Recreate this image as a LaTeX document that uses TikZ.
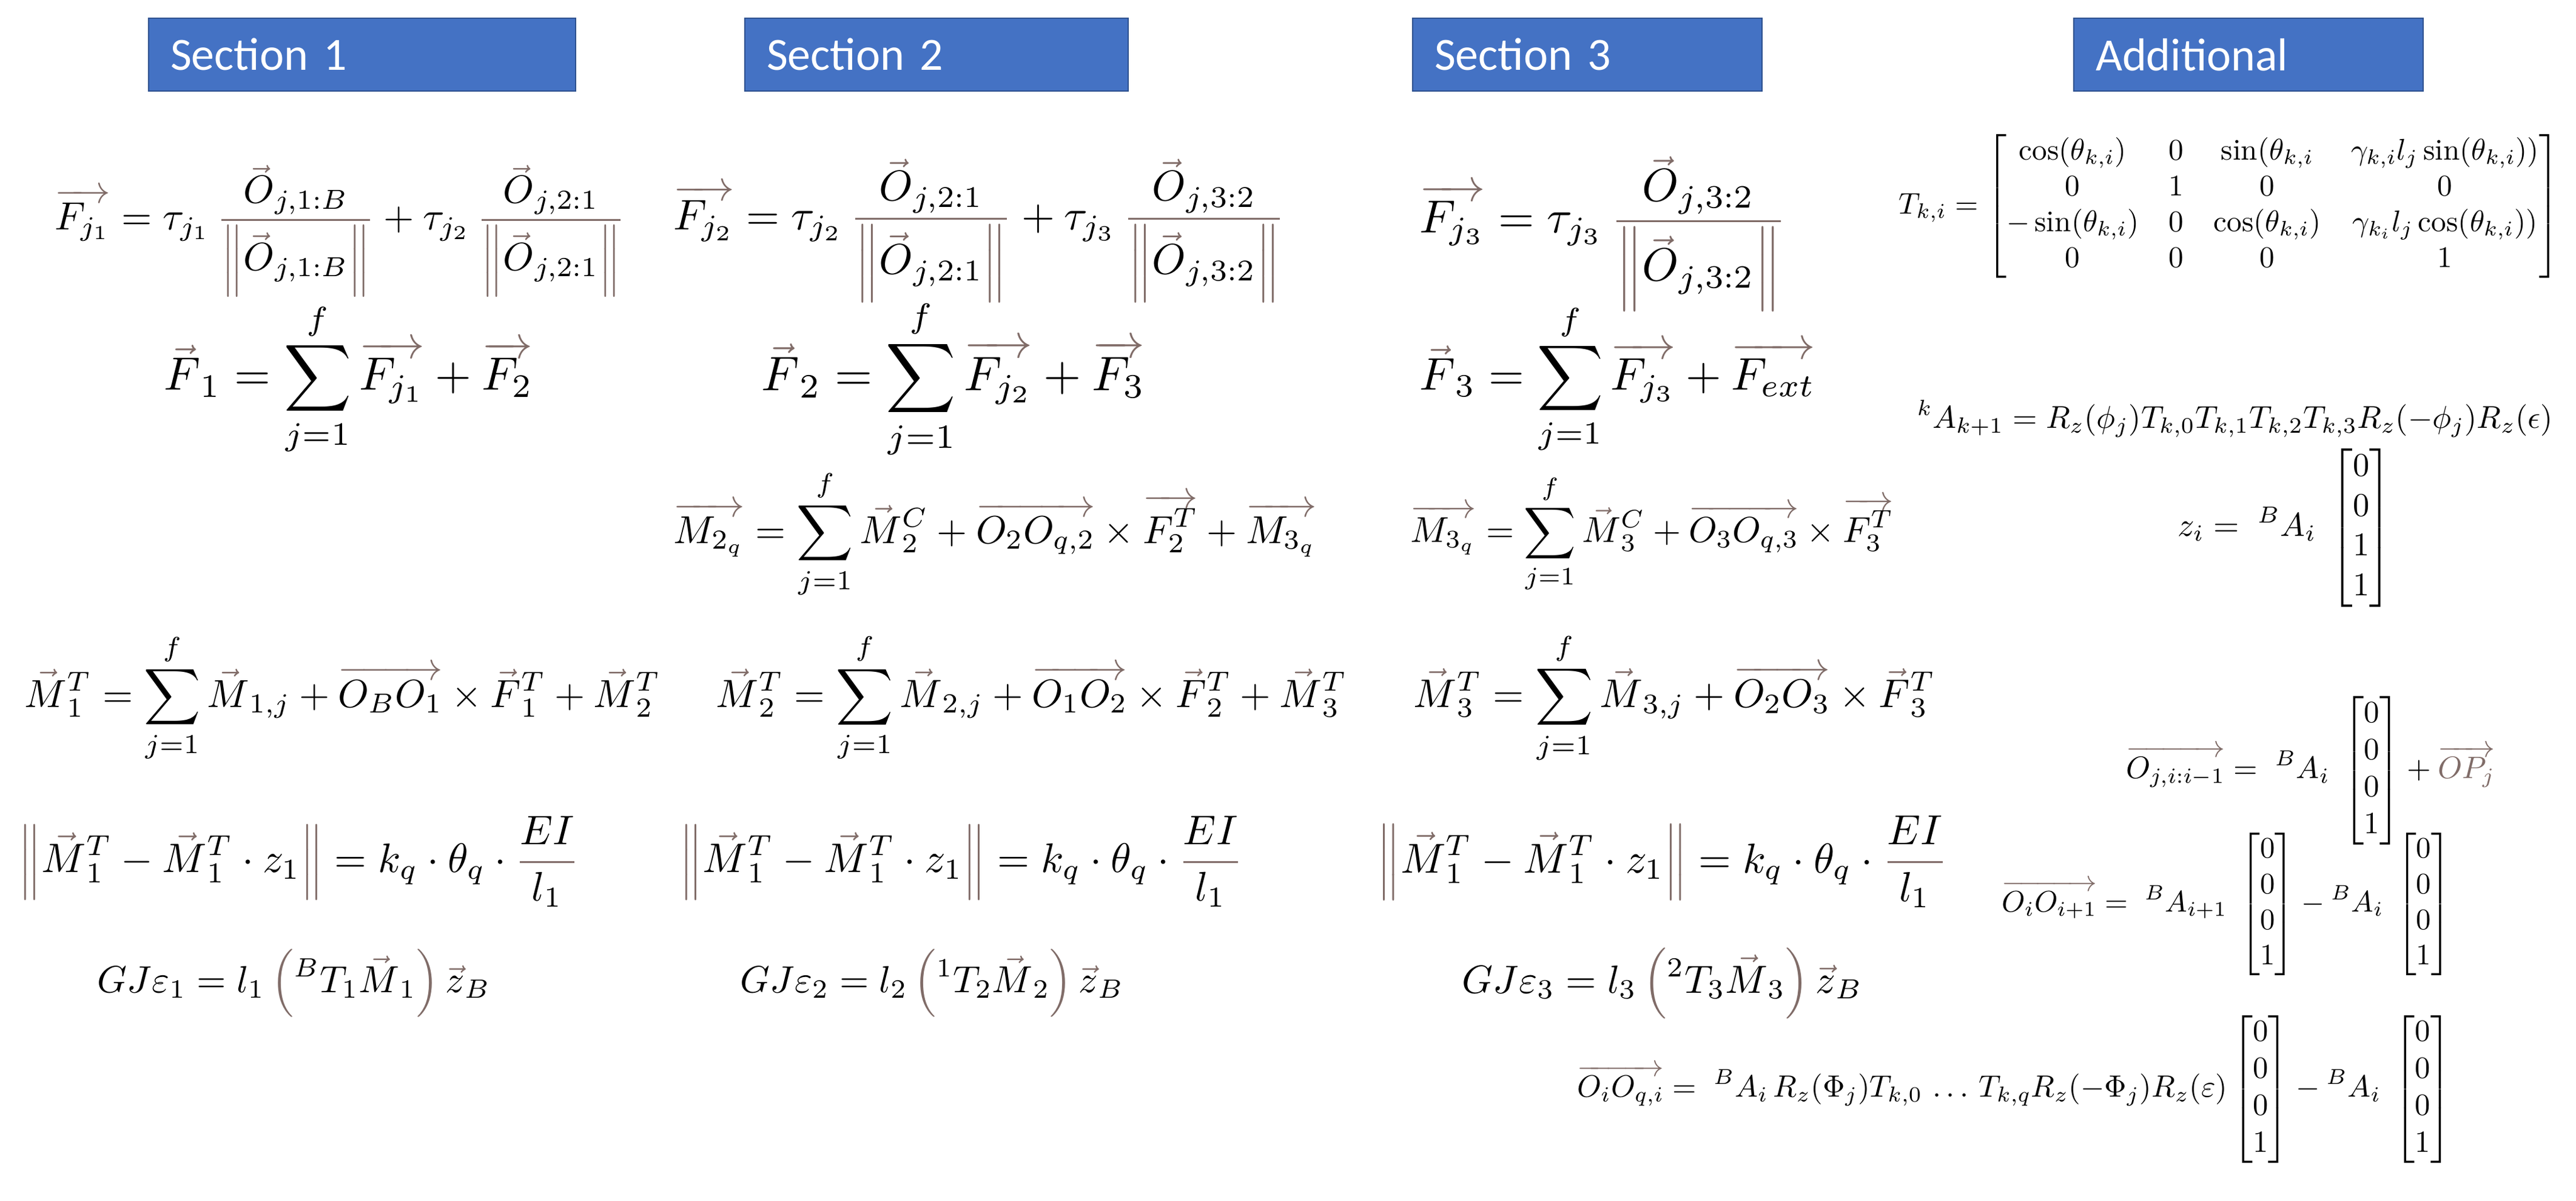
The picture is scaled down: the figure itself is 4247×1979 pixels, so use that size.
\documentclass[tikz,border=0pt]{standalone}
\usepackage{amsmath,amssymb}
\usepackage{xcolor}
\usepackage{graphicx}
\usepackage{fontspec}
\newfontfamily\carl{Carlito}
\definecolor{gc}{RGB}{128,108,104}
\definecolor{secfill}{RGB}{68,114,196}
\definecolor{secline}{RGB}{47,82,143}
\newcommand\vA[1]{{\color{gc}\overrightarrow{\color{black}#1}}}
\newcommand\vS[1]{{\color{gc}\vec{\color{black}#1}}}
\newcommand\Fr[2]{{\color{gc}\dfrac{\color{black}#1}{\color{black}#2}}}
\newcommand\Nm[1]{{\color{gc}\left\|{\color{black}#1}\right\|}}
\newcommand\Pa[1]{{\color{gc}\left({\color{black}#1}\right)}}
\newcommand\colv{\begin{bmatrix}0\\0\\0\\1\end{bmatrix}}
\newcommand\RB[2]{\resizebox{#1pt}{!}{$\displaystyle #2$}}
\begin{document}
\begin{tikzpicture}[x=0.25pt,y=-0.25pt,
  secbox/.style={draw=secline,line width=0.6pt,fill=secfill,text=white,font=\carl\fontsize{19}{22}\selectfont,align=left,inner xsep=9pt,minimum height=30pt},
  eq/.style={anchor=west,inner sep=0pt}]
\useasboundingbox (0,0) rectangle (4247,1979);
\node[secbox,text width=158pt] (s1) at (597,90) {Section 1};
\node[secbox,text width=140pt] (s2) at (1544,90) {Section 2};
\node[secbox,text width=126pt] (s3) at (2617,90) {Section 3};
\node[secbox,text width=126pt] (s4) at (3707,90) {Additional};

% Section 1
\node[eq] (e11) at (90,380) {\RB{235}{\vA{F_{j_1}} = \tau_{j_1}\,\Fr{\vS{O}_{j,1:B}}{\Nm{\vS{O}_{j,1:B}}} + \tau_{j_2}\,\Fr{\vS{O}_{j,2:1}}{\Nm{\vS{O}_{j,2:1}}}}};
\node[eq] (e12) at (270,625) {\RB{152}{\vS{F}_1 = \sum_{j=1}^{f}\vA{F_{j_1}} + \vA{F_2}}};
\node[eq] (e13) at (40,1150) {\RB{262}{\vS{M}_1^T = \sum_{j=1}^{f}\vS{M}_{1,j} + \vA{O_BO_1}\times\vS{F}_1^T + \vS{M}_2^T}};
\node[eq] (e14) at (30,1420) {\RB{231}{\Nm{\vS{M}_1^T - \vS{M}_1^T\cdot z_1} = k_q\cdot\theta_q\cdot\Fr{EI}{l_1}}};
\node[eq] (e15) at (160,1620) {\RB{162}{GJ\varepsilon_1 = l_1\,\Pa{{}^{B}T_1\vS{M}_1}\,\vS{z}_B}};

% Section 2
\node[eq] (e21) at (1110,380) {\RB{252}{\vA{F_{j_2}} = \tau_{j_2}\,\Fr{\vS{O}_{j,2:1}}{\Nm{\vS{O}_{j,2:1}}} + \tau_{j_3}\,\Fr{\vS{O}_{j,3:2}}{\Nm{\vS{O}_{j,3:2}}}}};
\node[eq] (e22) at (1255,625) {\RB{158}{\vS{F}_2 = \sum_{j=1}^{f}\vA{F_{j_2}} + \vA{F_3}}};
\node[eq] (e23) at (1110,880) {\RB{265}{\vA{M_{2_q}} = \sum_{j=1}^{f}\vS{M}_2^C + \vA{O_2O_{q,2}}\times{\color{gc}\vA{F_2^T}} + \vA{M_{3_q}}}};
\node[eq] (e24) at (1180,1150) {\RB{260}{\vS{M}_2^T = \sum_{j=1}^{f}\vS{M}_{2,j} + \vA{O_1O_2}\times\vS{F}_2^T + \vS{M}_3^T}};
\node[eq] (e25) at (1120,1420) {\RB{232}{\Nm{\vS{M}_1^T - \vS{M}_1^T\cdot z_1} = k_q\cdot\theta_q\cdot\Fr{EI}{l_1}}};
\node[eq] (e26) at (1220,1620) {\RB{158}{GJ\varepsilon_2 = l_2\,\Pa{{}^{1}T_2\vS{M}_2}\,\vS{z}_B}};

% Section 3
\node[eq] (e31) at (2340,385) {\RB{151}{\vA{F_{j_3}} = \tau_{j_3}\,\Fr{\vS{O}_{j,3:2}}{\Nm{\vS{O}_{j,3:2}}}}};
\node[eq] (e32) at (2340,625) {\RB{163}{\vS{F}_3 = \sum_{j=1}^{f}\vA{F_{j_3}} + \vA{F_{ext}}}};
\node[eq] (e33) at (2325,880) {\RB{199}{\vA{M_{3_q}} = \sum_{j=1}^{f}\vS{M}_3^C + \vA{O_3O_{q,3}}\times{\color{gc}\vA{F_3^T}}}};
\node[eq] (e34) at (2330,1150) {\RB{215}{\vS{M}_3^T = \sum_{j=1}^{f}\vS{M}_{3,j} + \vA{O_2O_3}\times\vS{F}_3^T}};
\node[eq] (e35) at (2270,1420) {\RB{235}{\Nm{\vS{M}_1^T - \vS{M}_1^T\cdot z_1} = k_q\cdot\theta_q\cdot\Fr{EI}{l_1}}};
\node[eq] (e36) at (2410,1620) {\RB{165}{GJ\varepsilon_3 = l_3\,\Pa{{}^{2}T_3\vS{M}_3}\,\vS{z}_B}};

% Additional
\node[eq] (a1) at (3130,340) {\RB{272}{T_{k,i} = \begin{bmatrix} \cos(\theta_{k,i}) & 0 & \sin(\theta_{k,i} & \gamma_{k,i}l_j\sin(\theta_{k,i}))\\ 0&1&0&0\\ -\sin(\theta_{k,i}) & 0 & \cos(\theta_{k,i}) & \gamma_{k_i}l_j\cos(\theta_{k,i}))\\ 0&0&0&1\end{bmatrix}}};
\node[eq] (a2) at (3160,690) {\RB{262}{{}^{k}A_{k+1} = R_z(\phi_j)T_{k,0}T_{k,1}T_{k,2}T_{k,3}R_z(-\phi_j)R_z(\epsilon)}};
\node[eq] (a3) at (3590,870) {\RB{88}{z_i =\; {}^{B}A_i\;\begin{bmatrix}0\\0\\1\\1\end{bmatrix}}};
\node[eq] (a4) at (3505,1270) {\RB{152}{{\color{gc}\overrightarrow{\color{black}O_{j,i:i-1}}} =\; {}^{B}A_i\;\colv + {\color{gc}\overrightarrow{OP_j}}}};
\node[eq] (a5) at (3300,1490) {\RB{185}{{\color{gc}\overrightarrow{\color{black}O_iO_{i+1}}} =\; {}^{B}A_{i+1}\;\colv - {}^{B}A_i\;\colv}};
\node[eq] (a6) at (2600,1795) {\RB{360}{{\color{gc}\overrightarrow{\color{black}O_iO_{q,i}}} =\; {}^{B}A_i\,R_z(\Phi_j)T_{k,0}\,\dots\,T_{k,q}R_z(-\Phi_j)R_z(\varepsilon)\colv - {}^{B}A_i\;\colv}};
\end{tikzpicture}
\end{document}
